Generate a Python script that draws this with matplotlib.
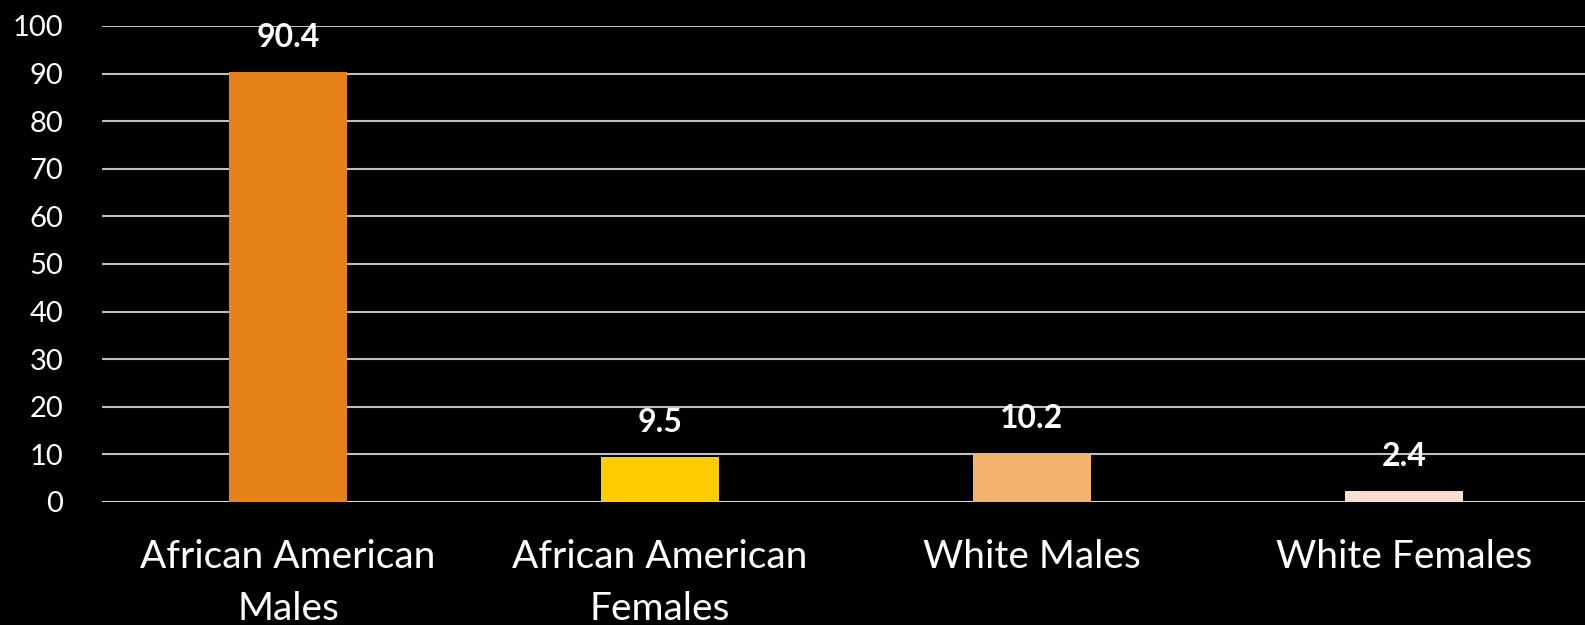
import matplotlib.pyplot as plt

categories = ['African American\nMales', 'African American\nFemales', 'White Males', 'White Females']
values = [90.4, 9.5, 10.2, 2.4]
bar_colors = ['#E6821A', '#FFCC00', '#F2B36E', '#F8DDD0']
y_ticks = [0, 10, 20, 30, 40, 50, 60, 70, 80, 90, 100]

plt.rcParams['font.family'] = ['Lato', 'DejaVu Sans']

fig = plt.figure(figsize=(15.85, 6.25), dpi=100, facecolor='black')
ax = fig.add_axes([102 / 1585, 123 / 625, 1488 / 1585, 476 / 625])
ax.set_facecolor('black')

x = range(len(categories))
ax.bar(x, values, width=0.315, color=bar_colors, zorder=3)

# value labels above each bar
for xi, v in zip(x, values):
    ax.annotate(f'{v}', (xi, v), xytext=(0, 18), textcoords='offset points',
                ha='center', va='baseline', color='white', fontsize=23,
                fontweight='bold', zorder=4)

ax.set_xlim(-0.5, 3.5)
ax.set_ylim(0, 100)
ax.set_yticks(y_ticks)
ax.set_xticks(list(x))
ax.set_xticklabels(categories, fontsize=28, color='white', linespacing=1.55)
ax.tick_params(axis='y', labelsize=21, colors='white', length=0, pad=28)
ax.tick_params(axis='x', length=0, pad=27)
ax.yaxis.grid(True, color='#BFBFBF', linewidth=1.5, zorder=0)
for s in ax.spines.values():
    s.set_visible(False)
ax.axhline(0, color='#D9D9D9', linewidth=2, zorder=2)

plt.savefig('out.png', dpi=100, facecolor='black')
plt.close()
